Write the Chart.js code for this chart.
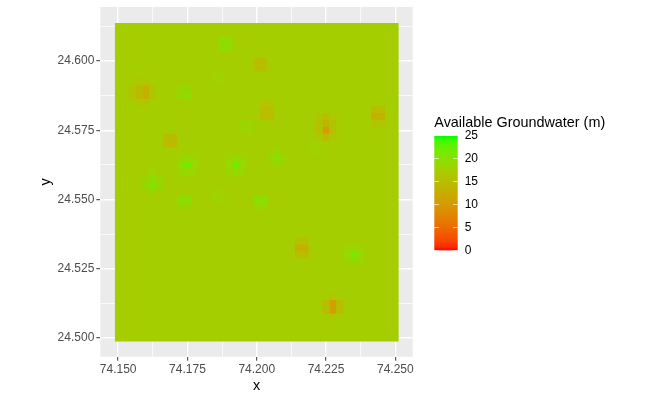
<!DOCTYPE html>
<html>
<head>
<meta charset="utf-8">
<script src="https://cdn.jsdelivr.net/npm/chart.js@4"></script>
<style>
  html, body { margin: 0; padding: 0; background: #fff; }
  #map { position: absolute; left: 0; top: 0; }
  #scale { position: absolute; left: 434px; top: 105px; }
</style>
</head>
<body>
<canvas id="map" width="651" height="402"></canvas>
<canvas id="scale" width="217" height="160"></canvas>
<script>
const xTicks = [74.15, 74.1625, 74.175, 74.1875, 74.2, 74.2125, 74.225, 74.2375, 74.25];
const yTicks = [24.5, 24.5125, 24.525, 24.5375, 24.55, 24.5625, 24.575, 24.5875, 24.6, 24.6125];
const xLabels = { 74.15: '74.150', 74.175: '74.175', 74.2: '74.200', 74.225: '74.225', 74.25: '74.250' };
const yLabels = { 24.5: '24.500', 24.525: '24.525', 24.55: '24.550', 24.575: '24.575', 24.6: '24.600' };

/** Raster extent, filled with the value most cells have */
const rasterLon = [74.14875, 74.25125];
const rasterTop = 24.61375;
const rasterBottom = 24.49875;
const rasterValue = 17.5;
const cellSize = 0.0025;

/** Cells that differ from the background, one well per line */
const cellLon = [
  74.1875, 74.19, 74.1875, 74.19,
  74.1575, 74.16, 74.1575, 74.16, 74.155, 74.1625, 74.155, 74.1625, 74.1575, 74.16, 74.1575, 74.16,
  74.1725, 74.175, 74.1725, 74.175, 74.17,
  74.2, 74.2025, 74.2, 74.2025,
  74.2025, 74.205, 74.2025, 74.205, 74.2025, 74.205,
  74.225, 74.225, 74.225, 74.225, 74.2225, 74.2275, 74.2225, 74.2275, 74.2225, 74.2275, 74.2225, 74.2275,
  74.2425, 74.245, 74.2425, 74.245, 74.2425, 74.245,
  74.1675, 74.17, 74.1675, 74.17,
  74.175, 74.1725, 74.1775, 74.175, 74.175, 74.1725, 74.1775, 74.1725, 74.1775,
  74.1925, 74.19, 74.195, 74.1925, 74.1925, 74.19, 74.195, 74.19, 74.195,
  74.1625, 74.1625, 74.16, 74.165, 74.16, 74.165, 74.1625, 74.1625,
  74.1725, 74.175, 74.1725, 74.175,
  74.2, 74.2025, 74.2, 74.2025,
  74.2075, 74.205, 74.21, 74.2075, 74.2075,
  74.22, 74.2225, 74.22, 74.2225,
  74.195, 74.1975, 74.195, 74.1975,
  74.215, 74.2175, 74.215, 74.2175, 74.215, 74.2175,
  74.235, 74.2325, 74.2375, 74.235, 74.235, 74.2325, 74.2375, 74.2325, 74.2375,
  74.2275, 74.2275, 74.225, 74.23, 74.225, 74.23, 74.2275, 74.2275,
  74.185, 74.1875, 74.185, 74.1875,
  74.185, 74.1875, 74.185, 74.1875
];
const cellLat = [
  24.605, 24.605, 24.6075, 24.6075,
  24.5875, 24.5875, 24.59, 24.59, 24.59, 24.59, 24.5875, 24.5875, 24.5925, 24.5925, 24.585, 24.585,
  24.5875, 24.5875, 24.59, 24.59, 24.5875,
  24.5975, 24.5975, 24.6, 24.6,
  24.58, 24.58, 24.5825, 24.5825, 24.585, 24.585,
  24.575, 24.5775, 24.58, 24.5725, 24.575, 24.575, 24.5775, 24.5775, 24.58, 24.58, 24.5725, 24.5725,
  24.58, 24.58, 24.5825, 24.5825, 24.5775, 24.5775,
  24.57, 24.57, 24.5725, 24.5725,
  24.5625, 24.5625, 24.5625, 24.56, 24.565, 24.56, 24.56, 24.565, 24.565,
  24.5625, 24.5625, 24.5625, 24.56, 24.565, 24.56, 24.56, 24.565, 24.565,
  24.555, 24.5575, 24.555, 24.555, 24.5575, 24.5575, 24.56, 24.5525,
  24.5475, 24.5475, 24.55, 24.55,
  24.5475, 24.5475, 24.55, 24.55,
  24.565, 24.565, 24.565, 24.5625, 24.5675,
  24.5675, 24.5675, 24.57, 24.57,
  24.575, 24.575, 24.5775, 24.5775,
  24.53, 24.53, 24.5325, 24.5325, 24.535, 24.535,
  24.53, 24.53, 24.53, 24.5275, 24.5325, 24.5275, 24.5275, 24.5325, 24.5325,
  24.51, 24.5125, 24.51, 24.51, 24.5125, 24.5125, 24.515, 24.5075,
  24.5925, 24.5925, 24.595, 24.595,
  24.55, 24.55, 24.5525, 24.5525
];
const cellValue = [
  19.6, 19.6, 19.4, 19.4,
  14.6, 13, 14.6, 13, 16, 16, 16, 16, 16.2, 16.2, 16.2, 16.2,
  19, 19.4, 18.6, 19, 17.9,
  15, 15, 15, 15,
  14.8, 14.8, 15.2, 15.2, 16.2, 16.2,
  10.5, 13.5, 15, 14.5, 15.2, 15.2, 15.7, 15.7, 16.4, 16.4, 16.4, 16.4,
  13, 13, 15, 15, 16.2, 16.2,
  14.5, 14.5, 14.5, 14.5,
  21.5, 19.4, 19.4, 19.2, 19.2, 18.5, 18.5, 18.5, 18.5,
  21.5, 19.4, 19.4, 19.2, 19.2, 18.5, 18.5, 18.5, 18.5,
  21, 20, 18.8, 18.8, 18.5, 18.5, 18.3, 18.3,
  18.6, 18.6, 19.8, 19.8,
  18.8, 18.8, 19.8, 19.8,
  20, 18.7, 18.7, 18.7, 18.7,
  18, 18, 18, 18,
  18.5, 18.5, 18.5, 18.5,
  15, 15, 13, 13, 15.4, 15.4,
  21.2, 19.2, 19.2, 18.8, 18.8, 18.3, 18.3, 18.3, 18.3,
  10.8, 10.8, 14.8, 14.8, 14.8, 14.8, 16.2, 16.2,
  18, 18, 18, 18,
  18, 18, 18, 18
];

/** Colour bar ends and labels */
const scaleMin = 0;
const scaleMax = 25;
const scaleLow = [255, 0, 0];
const scaleHigh = [0, 255, 0];
const scaleTicks = [0, 5, 10, 15, 20, 25];

const fontFamily = '"Liberation Sans", Arial, sans-serif';

const rgbToLab = (rgb) => {
  const [r, g, b] = rgb.map(c => {
    const v = c / 255;
    return v > 0.04045 ? Math.pow((v + 0.055) / 1.055, 2.4) : v / 12.92;
  });
  const f = (t) => (t > 0.008856 ? Math.cbrt(t) : 7.787 * t + 16 / 116);
  const x = f((0.4124 * r + 0.3576 * g + 0.1805 * b) / 0.95047);
  const y = f(0.2126 * r + 0.7152 * g + 0.0722 * b);
  const z = f((0.0193 * r + 0.1192 * g + 0.9505 * b) / 1.08883);
  return [116 * y - 16, 500 * (x - y), 200 * (y - z)];
};

const labToRgb = ([l, a, bb]) => {
  const fy = (l + 16) / 116;
  const inv = (t) => (t * t * t > 0.008856 ? t * t * t : (t - 16 / 116) / 7.787);
  const x = inv(a / 500 + fy) * 0.95047;
  const y = inv(fy);
  const z = inv(fy - bb / 200) * 1.08883;
  return [
    3.2406 * x - 1.5372 * y - 0.4986 * z,
    -0.9689 * x + 1.8758 * y + 0.0415 * z,
    0.0557 * x - 0.204 * y + 1.057 * z,
  ].map(v => {
    const c = v > 0.0031308 ? 1.055 * Math.pow(v, 1 / 2.4) - 0.055 : 12.92 * v;
    return Math.round(Math.min(1, Math.max(0, c)) * 255);
  });
};

/** Same colour ramp as the legend: straight line through Lab */
const colorFor = (value) => {
  const t = (value - scaleMin) / (scaleMax - scaleMin);
  const a = rgbToLab(scaleLow);
  const b = rgbToLab(scaleHigh);
  return `rgb(${labToRgb(a.map((c, n) => c + (b[n] - c) * t)).join(',')})`;
};

/** Point radius that makes a 'rect' point cover exactly one raster cell */
const cellRadius = (ctx) => {
  const x = ctx.chart.scales.x;
  return Math.abs(x.getPixelForValue(rasterLon[0] + cellSize) - x.getPixelForValue(rasterLon[0])) / 2 * Math.SQRT2;
};

const isMajor = (labels, value) => labels[value] !== undefined;

const axis = (ticksList, labels, min, max, titleText, titlePadding, fit) => ({
  type: 'linear',
  min,
  max,
  afterBuildTicks: (scale) => { scale.ticks = ticksList.map(value => ({ value })); },
  afterFit: (scale) => {
    fit(scale);
    // Labels may hang over the panel edge, they should not shrink it
    scale.paddingTop = scale.paddingBottom = scale.paddingLeft = scale.paddingRight = 0;
  },
  title: { display: true, text: titleText, color: '#000', font: { family: fontFamily, size: 14.4 }, padding: titlePadding },
  border: { display: false },
  grid: {
    color: '#fff',
    lineWidth: (ctx) => isMajor(labels, ctx.tick.value) ? 1.4 : 0.7,
    tickColor: (ctx) => isMajor(labels, ctx.tick.value) ? '#333333' : 'rgba(0,0,0,0)',
    tickLength: 4,
    tickWidth: 1,
  },
  ticks: {
    autoSkip: false,
    maxRotation: 0,
    padding: 2,
    color: '#4d4d4d',
    font: { family: fontFamily, size: 12 },
    callback: (value) => labels[value] || '',
  },
});

// Grey panel behind the grid lines
const panelPlugin = {
  id: 'panel',
  beforeDraw: (chart) => {
    const { ctx, chartArea: a } = chart;
    ctx.save();
    ctx.fillStyle = '#ebebeb';
    ctx.fillRect(a.left, a.top, a.right - a.left, a.bottom - a.top);
    ctx.restore();
  },
};

new Chart(document.getElementById('map'), {
  type: 'scatter',
  plugins: [panelPlugin],
  data: {
    datasets: [
      {
        data: cellLon.map((lon, i) => ({ x: lon, y: cellLat[i] })),
        pointStyle: 'rect',
        pointRadius: cellRadius,
        pointBorderWidth: 0,
        pointBackgroundColor: cellValue.map(colorFor),
        order: 1,
      },
      {
        type: 'line',
        data: rasterLon.map(lon => ({ x: lon, y: rasterTop })),
        borderWidth: 0,
        pointRadius: 0,
        backgroundColor: colorFor(rasterValue),
        fill: { target: { value: rasterBottom } },
        order: 2,
      },
    ],
  },
  options: {
    responsive: false,
    animation: false,
    layout: { autoPadding: false, padding: { top: 7, right: 238.3, left: 0, bottom: 0 } },
    plugins: { legend: { display: false }, tooltip: { enabled: false } },
    scales: {
      x: axis(xTicks, xLabels, 74.14355, 74.25627, 'x', { top: 0, bottom: 7 }, (s) => { s.height = 45.3; }),
      y: axis(yTicks, yLabels, 24.49325, 24.6195, 'y', { top: 37, bottom: 0 }, (s) => { s.width = 100.3; }),
    },
  },
});

const barGradient = (ctx) => {
  const { chart } = ctx;
  if (!chart.chartArea) return colorFor(scaleMin);
  const y = chart.scales.y;
  const g = chart.ctx.createLinearGradient(0, y.getPixelForValue(scaleMin), 0, y.getPixelForValue(scaleMax));
  for (let v = scaleMin; v <= scaleMax; v++) {
    g.addColorStop((v - scaleMin) / (scaleMax - scaleMin), colorFor(v));
  }
  return g;
};

new Chart(document.getElementById('scale'), {
  type: 'bar',
  data: {
    labels: [''],
    datasets: [{ data: [[scaleMin, scaleMax]], backgroundColor: barGradient, borderWidth: 0, barPercentage: 1, categoryPercentage: 1 }],
  },
  options: {
    responsive: false,
    animation: false,
    layout: { autoPadding: false, padding: { left: 0.3, right: 0, top: 0, bottom: 14.3 } },
    plugins: {
      legend: { display: false },
      tooltip: { enabled: false },
      title: {
        display: true,
        text: 'Available Groundwater (m)',
        align: 'start',
        color: '#000',
        font: { family: fontFamily, size: 14.4, weight: 'normal' },
        padding: { top: 9, bottom: 4.7 },
      },
    },
    scales: {
      x: { display: false },
      y: {
        position: 'right',
        min: scaleMin,
        max: scaleMax,
        afterBuildTicks: (scale) => { scale.ticks = scaleTicks.map(value => ({ value })); },
        afterFit: (s) => { s.width = 193.3; s.paddingTop = s.paddingBottom = 0; },
        border: { display: false, dash: [4.7, 14, 4.7] },
        grid: {
          z: 1,
          color: 'rgba(255,255,255,0.6)',
          lineWidth: 1,
          drawTicks: false,
        },
        ticks: {
          padding: 7,
          color: '#000',
          font: { family: fontFamily, size: 12 },
        },
      },
    },
  },
});
</script>
</body>
</html>
